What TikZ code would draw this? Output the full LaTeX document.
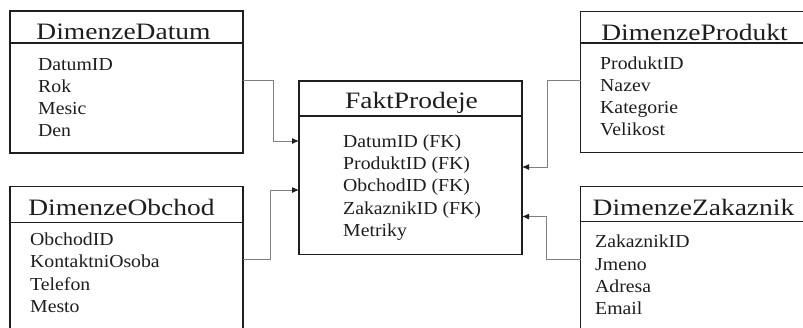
\documentclass[tikz,border=0pt]{standalone}
\usepackage{fontspec}
\setmainfont{Liberation Serif}
\newfontfamily\ttlfont[FakeStretch=1.17]{Liberation Serif}
\newfontfamily\itmfont[FakeStretch=1.08]{Liberation Serif}
\usetikzlibrary{arrows.meta,calc}
\definecolor{ink}{HTML}{1E1E1E}
\definecolor{wire}{HTML}{808080}
\tikzset{
  tbl/.style={draw=ink, line width=1.1pt, inner sep=0pt, outer sep=0pt, anchor=north west},
  sep/.style={draw=ink, line width=1.1pt},
  ttl/.style={anchor=base, inner sep=0pt, text=ink, font=\ttlfont\fontsize{23.5}{26}\selectfont},
  itm/.style={anchor=base west, inner sep=0pt, text=ink, font=\itmfont\fontsize{18.3}{20}\selectfont},
  conn/.style={draw=wire, line width=1pt, -{Latex[length=7pt,width=6pt,color=ink]}}
}
\begin{document}
\begin{tikzpicture}[x=1pt,y=-1pt]
\useasboundingbox (0,0) rectangle (803,327);
\fill[white] (0,0) rectangle (803,327);
\clip (0,0) rectangle (803,327);

% table frames
\node[tbl, minimum width=233pt, minimum height=142pt] (datum) at (10,11) {};
\node[tbl, minimum width=233pt, minimum height=145pt] (obchod) at (10,186.7) {};
\node[tbl, minimum width=223pt, minimum height=173.3pt] (fakt) at (299,81) {};
\node[tbl, minimum width=230pt, minimum height=141pt] (produkt) at (580.7,11.7) {};
\node[tbl, minimum width=230pt, minimum height=145pt] (zakaznik) at (580.7,186.7) {};

% header separators
\draw[sep] ($(datum.north west)+(0,32)$) -- ($(datum.north east)+(0,32)$);
\draw[sep] ($(obchod.north west)+(0,35.6)$) -- ($(obchod.north east)+(0,35.6)$);
\draw[sep] ($(fakt.north west)+(0,35)$) -- ($(fakt.north east)+(0,35)$);
\draw[sep] ($(produkt.north west)+(0,31.3)$) -- ($(produkt.north east)+(0,31.3)$);
\draw[sep] ($(zakaznik.north west)+(0,35)$) -- ($(zakaznik.north east)+(0,35)$);

% titles
\node[ttl] (datum-t) at (123.5,39.5) {DimenzeDatum};
\node[ttl] (obchod-t) at (121.5,215) {DimenzeObchod};
\node[ttl] (fakt-t) at (411.5,108.3) {FaktProdeje};
\node[ttl] (produkt-t) at (694.5,40) {DimenzeProdukt};
\node[ttl] (zakaznik-t) at (693.5,215) {DimenzeZakaznik};

% attributes
\foreach \t [count=\i] in {DatumID,Rok,Mesic,Den}
  \node[itm] (datum-\i) at (38,{70.5+22*(\i-1)}) {\t};
\foreach \t [count=\i] in {ObchodID,KontaktniOsoba,Telefon,Mesto}
  \node[itm] (obchod-\i) at (30,{245+22.6*(\i-1)}) {\t};
\foreach \t [count=\i] in {DatumID (FK),ProduktID (FK),ObchodID (FK),ZakaznikID (FK),Metriky}
  \node[itm] (fakt-\i) at (343,{147+22.4*(\i-1)}) {\t};
\foreach \t [count=\i] in {ProduktID,Nazev,Kategorie,Velikost}
  \node[itm] (produkt-\i) at (600,{69+22*(\i-1)}) {\t};
\foreach \t [count=\i] in {ZakaznikID,Jmeno,Adresa,Email}
  \node[itm] (zakaznik-\i) at (595,{247.7+22.4*(\i-1)}) {\t};

% foreign-key links
\draw[conn] ([yshift=2pt]datum.east) -- ++(30,0) |- ($(fakt.north west)+(0,60)$);
\draw[conn] (obchod.east) -- ++(27,0) |- ($(fakt.north west)+(0,109)$);
\draw[conn] ([yshift=2pt]produkt.west) -- ++(-33,0) |- ($(fakt.north east)+(0,86)$);
\draw[conn] (zakaznik.west) -- ++(-34,0) |- ($(fakt.north east)+(0,135.5)$);
\end{tikzpicture}
\end{document}
